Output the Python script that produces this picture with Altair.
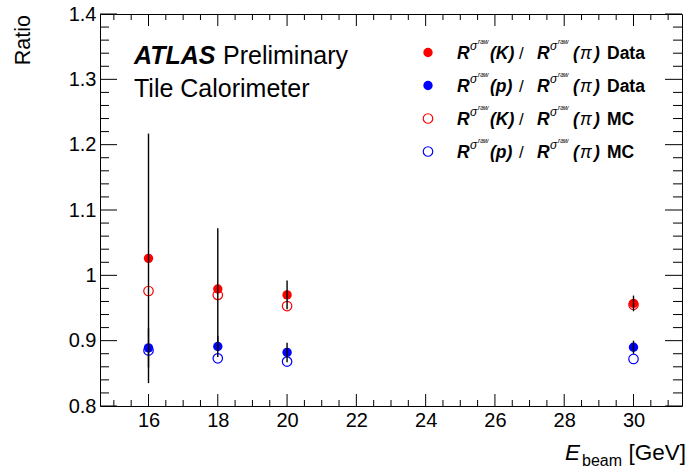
import altair as alt
import numpy as np
import pandas as pd

FONT = "Liberation Sans"

# Beam energies (GeV) and measured ratios
energy = [16, 18, 20, 30]
k_data = [1.026, 0.979, 0.970, 0.957]
k_data_err = [0.191, 0.093, 0.022, 0.012]
p_data = [0.889, 0.891, 0.882, 0.890]
p_data_err = [0.030, 0.016, 0.015, 0.010]
k_mc = [0.976, 0.970, 0.953, 0.955]
p_mc = [0.885, 0.873, 0.868, 0.872]

x_major = [16, 18, 20, 22, 24, 26, 28, 30]
y_major = [0.8, 0.9, 1.0, 1.1, 1.2, 1.3, 1.4]

W, H = 582, 392
RED, BLUE = "#ff0000", "#0000ff"
FILLED_SIZE, OPEN_SIZE = 88, 90

xs = alt.Scale(domain=[14.6, 31.4], nice=False, zero=False)
ys = alt.Scale(domain=[0.8, 1.4], nice=False, zero=False)

x_axis = alt.Axis(values=x_major, ticks=False, domain=False, grid=False, title=None,
                  labelFont=FONT, labelFontSize=20, labelColor="black", labelPadding=4,
                  labelFlush=False)
y_axis = alt.Axis(values=y_major, ticks=False, domain=False, grid=False, title=None,
                  labelFont=FONT, labelFontSize=20, labelColor="black", labelPadding=4,
                  labelOverlap=False,
                  labelExpr="datum.value == 1 ? '1' : format(datum.value, '.1f')")


def X(field):
    return alt.X(field, scale=xs, axis=x_axis)


def Y(field):
    return alt.Y(field, scale=ys, axis=y_axis)


data = pd.DataFrame({
    "E": energy * 2,
    "val": k_data + p_data,
    "err": k_data_err + p_data_err,
    "kind": ["K"] * 4 + ["p"] * 4,
})
data["lo"] = data["val"] - data["err"]
data["hi"] = data["val"] + data["err"]
mc = pd.DataFrame({"E": energy * 2, "val": k_mc + p_mc, "kind": ["K"] * 4 + ["p"] * 4})

color = alt.Color("kind:N", scale=alt.Scale(domain=["K", "p"], range=[RED, BLUE]), legend=None)

# tick positions (inward ticks on all four sides of the frame)
x_minor = [v for v in np.arange(15.0, 31.01, 0.5) if v not in x_major]
y_minor = [round(v, 2) for v in np.arange(0.82, 1.39, 0.02)
           if round(v, 2) not in [round(m, 2) for m in y_major]]
xmaj = pd.DataFrame({"E": x_major})
xmin = pd.DataFrame({"E": x_minor})
ymaj = pd.DataFrame({"val": y_major})
ymin = pd.DataFrame({"val": y_minor})


def xticks(df, length):
    bottom = alt.Chart(df).mark_rule(color="black", strokeWidth=1).encode(
        x=X("E:Q"), y=alt.value(H), y2=alt.value(H - length))
    top = alt.Chart(df).mark_rule(color="black", strokeWidth=1).encode(
        x=X("E:Q"), y=alt.value(0), y2=alt.value(length))
    return [bottom, top]


def yticks(df, length):
    left = alt.Chart(df).mark_rule(color="black", strokeWidth=1).encode(
        y=Y("val:Q"), x=alt.value(0), x2=alt.value(length))
    right = alt.Chart(df).mark_rule(color="black", strokeWidth=1).encode(
        y=Y("val:Q"), x=alt.value(W), x2=alt.value(W - length))
    return [left, right]


tick_layers = xticks(xmaj, 12) + xticks(xmin, 6) + yticks(ymaj, 17) + yticks(ymin, 9)

mc_pts = alt.Chart(mc).mark_point(shape="circle", filled=False, size=OPEN_SIZE, strokeWidth=1.2,
                                  opacity=1).encode(
    x=X("E:Q"), y=Y("val:Q"), color=color,
)
data_pts = alt.Chart(data).mark_circle(size=FILLED_SIZE, opacity=1).encode(
    x=X("E:Q"), y=Y("val:Q"), color=color,
)
err_bars = alt.Chart(data).mark_rule(color="black", strokeWidth=1.4).encode(
    x=X("E:Q"), y=Y("lo:Q"), y2="hi:Q",
)

blank = alt.Data(values=[{}])


def txt(s, x, y, size, weight="normal", style="normal", align="left", angle=0):
    return alt.Chart(blank).mark_text(
        text=s, font=FONT, fontSize=size, fontWeight=weight, fontStyle=style,
        align=align, baseline="alphabetic", color="black", angle=angle,
    ).encode(x=alt.value(x), y=alt.value(y))


def marker(x, y, col, filled):
    if filled:
        return alt.Chart(blank).mark_circle(size=FILLED_SIZE, color=col, opacity=1).encode(
            x=alt.value(x), y=alt.value(y))
    return alt.Chart(blank).mark_point(shape="circle", filled=False, size=OPEN_SIZE, strokeWidth=1.2,
                                        color=col, opacity=1).encode(x=alt.value(x), y=alt.value(y))


# legend entries: (particle, sample, colour, filled)
entries = [("(K)", "Data", RED, True), ("(p)", "Data", BLUE, True),
           ("(K)", "MC", RED, False), ("(p)", "MC", BLUE, False)]
legend_layers = []
for i, (part, sample, col, filled) in enumerate(entries):
    cy = 38.5 + 33 * i
    b = cy + 6.5
    legend_layers += [
        marker(328, cy, col, filled),
        txt("R", 357, b, 17.5, "bold", "italic"),
        txt("σ", 370, b - 9, 12, "normal", "italic"),
        txt("raw", 378, b - 15, 6.5, "normal", "italic"),
        txt(part, 390, b, 17.5, "bold", "italic"),
        txt("/", 419, b, 17),
        txt("R", 437, b, 17.5, "bold", "italic"),
        txt("σ", 450, b - 9, 12, "normal", "italic"),
        txt("raw", 458, b - 15, 6.5, "normal", "italic"),
        txt("(", 473, b, 17.5, "bold", "italic"),
        txt("π", 480, b, 17.5, "normal", "italic"),
        txt(")", 494, b, 17.5, "bold", "italic"),
        txt(sample, 507, b, 17.5, "bold"),
    ]

labels = [
    txt("ATLAS", 34, 50, 25, "bold", "italic"),
    txt("Preliminary", 123, 50, 25),
    txt("Tile Calorimeter", 34, 83, 25),
    txt("Ratio", -70, 1, 21.5, align="right", angle=270),
    txt("E", 465, 446, 22.5, "normal", "italic"),
    txt("beam", 482, 452, 16),
    txt("[GeV]", 586, 446, 22.5, align="right"),
]

chart = alt.layer(
    mc_pts, *tick_layers, data_pts, err_bars, *legend_layers, *labels
).properties(
    width=W, height=H,
    padding={"left": 100, "top": 14, "right": 5, "bottom": 69},
    autosize=alt.AutoSizeParams(type="none"),
    background="white",
).configure_view(stroke="black", strokeWidth=1)

chart.save("out.html", embed_options={"renderer": "svg", "actions": False})
